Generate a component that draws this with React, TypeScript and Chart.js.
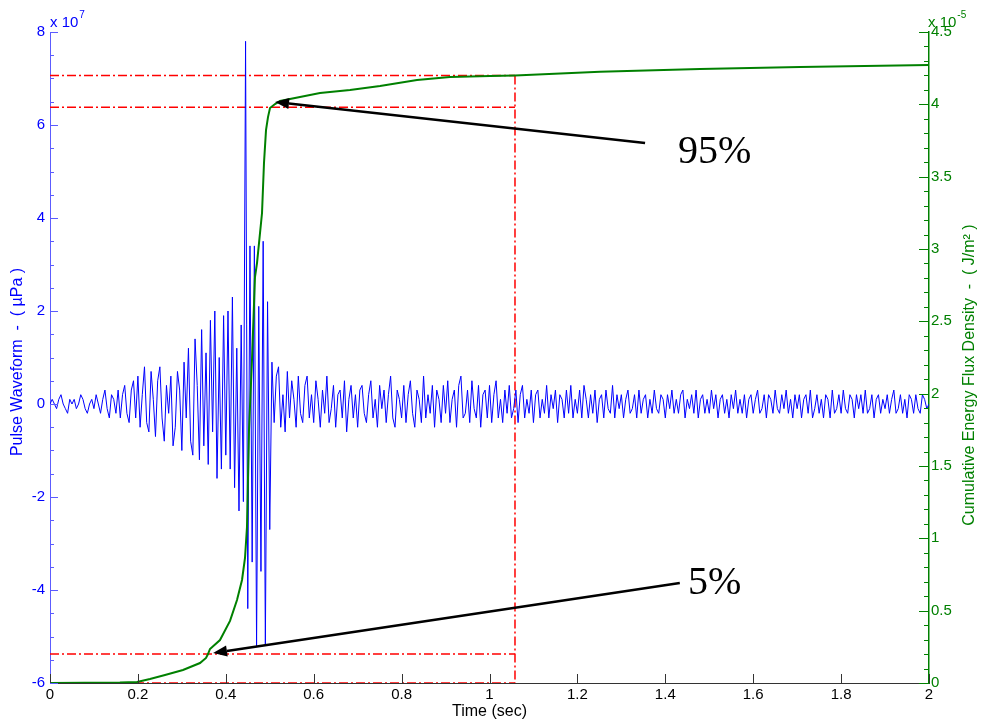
import React, { useEffect, useRef } from "react";
import { Chart, registerables } from "chart.js";

Chart.register(...registerables);

// ---- Data -----------------------------------------------------------------
// Pulse waveform in units of 10^6 µPa, one sample every 5 ms from 0 s to 2 s.
const SAMPLE_STEP_SEC = 0.005;
const pulseWaveform: number[] = [
  // 0.0 s
  0, 1, 0, -1, 1, 2, 0, -1, -2, 1, 0, 1, -1, 0, 2, 1, -1, -2, 0, 1,
  // 0.1 s
  -1, 2, 0, -2, 1, 3, -1, -3, 2, 1, -2, 3, -3, 2, 4, -2, -4, 3, 5, -3,
  // 0.2 s
  6, -5, 2, 8, -4, -6, 7, 1, -7, 5, 8, -3, -8, 4, -2, 6, -9, -5, 7, 3,
  // 0.3 s
  -10, 9, -3, 12, -8, -11, 14, 4, -12, 16, -9, 11, -13, 18, -6, 20, -16, 10, -14, 19,
  // 0.4 s
  -11, 20, -14, 23, -18, 12, -23, 17, -21, 78, -44, 34, -34, 34, -52, 21, -36, 35, -52, 22,
  // 0.5 s
  -27, 9, -4, 6, 8, -5, 2, -6, 7, -3, 5, 1, -5, 6, -2, -4, 4, 6, -3, 2,
  // 0.6 s
  -4, 5, 1, -5, 3, -2, 6, -4, -1, 4, -5, 2, 3, -3, 5, -6, 1, 4, -3, 2,
  // 0.7 s
  -5, 3, 4, -2, -4, 2, 5, -3, 1, -5, 4, -1, 3, -4, 2, 6, -3, -5, 3, 1,
  // 0.8 s
  -3, 4, -4, 2, 5, -2, -5, 3, 1, -4, 6, -3, 2, -2, 4, -5, 3, 1, -4, 4,
  // 0.9 s
  -2, 5, -4, 1, 3, -5, 4, 6, -3, -2, 3, -4, 5, -1, -3, 4, -5, 2, 3, -3,
  // 1.0 s
  4, -4, 2, 5, -3, 1, -4, 3, -2, 4, -3, -1, 3, -4, 2, 4, -3, 1, -2, 3,
  // 1.1 s
  -4, 2, 3, -3, 1, -2, 4, -3, 2, -1, 3, -4, 2, 1, -3, 3, -2, 4, -3, 1,
  // 1.2 s
  -2, 3, -3, 4, 1, -3, 2, -2, 3, -4, 1, 2, -3, 3, -1, -2, 4, -3, 2, -1,
  // 1.3 s
  2, -3, 1, 3, -2, -1, 2, -3, 3, -2, 1, 2, -3, 1, -2, 3, -1, -2, 2, 1,
  // 1.4 s
  -3, 2, -1, 3, -2, 1, -2, 2, 3, -3, 1, -1, 2, -2, 3, -3, 1, 2, -2, 1,
  // 1.5 s
  -2, 3, -1, 2, -3, 1, 2, -2, 1, -3, 2, -1, 3, -2, 1, -2, 2, -3, 1, 2,
  // 1.6 s
  -2, 1, 3, -2, -1, 2, -3, 2, 1, -2, 3, -1, -2, 2, -1, 3, -2, 1, -3, 2,
  // 1.7 s
  -1, 2, -3, 1, 2, -2, 3, -3, -1, 2, -2, 1, -3, 2, 1, -3, 3, -2, -1, 2,
  // 1.8 s
  -2, 3, -1, -2, 2, 1, -3, 2, -1, 2, -2, 3, -2, -1, 2, -3, 1, 2, -2, 1,
  // 1.9 s .. 2.0 s
  -1, 2, -2, 1, 3, -2, -1, 2, -2, 1, -3, 2, 1, -2, 2, -1, -2, 2, 1, -1, 0,
];

// Cumulative energy flux density (×10^-5 J/m²) against time (s)
const energyTimeSec: number[] = [
  0, 0.159, 0.198, 0.2275, 0.2617, 0.3026, 0.3413, 0.355, 0.3595, 0.364,
  0.3868, 0.4096, 0.4255, 0.4369, 0.4437, 0.4482, 0.4528, 0.4596, 0.4664, 0.471,
  0.4824, 0.4869, 0.4915, 0.496, 0.5006, 0.512, 0.5233, 0.5688, 0.6143, 0.6826,
  0.7509, 0.835, 0.91, 1.001, 1.058, 1.2514, 1.479, 1.7065, 2.0,
];
const energyFluxDensity: number[] = [
  0, 0.003, 0.007, 0.028, 0.055, 0.09, 0.138, 0.173, 0.2, 0.235,
  0.297, 0.429, 0.574, 0.712, 0.864, 1.078, 1.749, 2.233, 2.806, 2.903,
  3.249, 3.594, 3.822, 3.912, 3.975, 4.002, 4.023, 4.051, 4.078, 4.099,
  4.127, 4.168, 4.189, 4.196, 4.2, 4.225, 4.245, 4.258, 4.272,
];

// Reference marker levels
const markerTimeSec = 1.058;
const energyTotalLevel = 4.2;
const energy95Level = 3.98;
const energy5Level = 0.2;
const energyZeroLevel = 0;

// Annotations: [time s, energy ×10^-5]
const arrow95 = { tail: [1.354, 3.733], tip: [0.512, 4.016] };
const arrow5 = { tail: [1.433, 0.691], tip: [0.371, 0.207] };
const label95 = { text: "95%", at: [1.4289, 3.594] };
const label5 = { text: "5%", at: [1.4516, 0.615] };

// ---- Styling ----------------------------------------------------------------
const SANS = "'Liberation Sans', Arial, Helvetica, sans-serif";
const SERIF = "'Liberation Serif', 'Times New Roman', serif";
const BLUE = "#0000ff";
const GREEN = "#008000";
const RED = "#ff0000";

const fmt = (v: number) => {
  const r = Math.round(v * 10) / 10;
  return String(r);
};

const decorPlugin = {
  id: "decor",
  afterDraw(chart: any) {
    const { ctx, chartArea, scales } = chart;
    const sx = scales.x;
    const sl = scales.y;
    const sr = scales.y1;
    ctx.save();

    // inward tick marks
    ctx.lineWidth = 1;
    ctx.strokeStyle = "#333333";
    for (let i = 0; i <= 10; i++) {
      const px = Math.round(sx.getPixelForValue(i * 0.2)) + 0.5;
      ctx.beginPath();
      ctx.moveTo(px, chartArea.bottom);
      ctx.lineTo(px, chartArea.bottom - 9);
      ctx.stroke();
    }
    ctx.strokeStyle = "#5c5cff";
    for (let v = -60; v <= 80; v += 5) {
      const py = Math.round(sl.getPixelForValue(v)) + 0.5;
      const len = v % 20 === 0 ? 8 : 4;
      ctx.beginPath();
      ctx.moveTo(chartArea.left, py);
      ctx.lineTo(chartArea.left + len, py);
      ctx.stroke();
    }
    ctx.strokeStyle = GREEN;
    for (let i = 0; i <= 45; i++) {
      const py = Math.round(sr.getPixelForValue(i / 10)) + 0.5;
      const len = i % 5 === 0 ? 10 : 5;
      ctx.beginPath();
      ctx.moveTo(chartArea.right, py);
      ctx.lineTo(chartArea.right - len, py);
      ctx.stroke();
    }

    // arrows
    const drawArrow = (a: { tail: number[]; tip: number[] }) => {
      const x1 = sx.getPixelForValue(a.tail[0]);
      const y1 = sr.getPixelForValue(a.tail[1]);
      const x2 = sx.getPixelForValue(a.tip[0]);
      const y2 = sr.getPixelForValue(a.tip[1]);
      const ang = Math.atan2(y2 - y1, x2 - x1);
      const headLen = 14;
      const headHalf = 5.5;
      const bx = x2 - headLen * Math.cos(ang);
      const by = y2 - headLen * Math.sin(ang);
      ctx.strokeStyle = "#000";
      ctx.lineWidth = 2.5;
      ctx.beginPath();
      ctx.moveTo(x1, y1);
      ctx.lineTo(bx, by);
      ctx.stroke();
      ctx.fillStyle = "#000";
      ctx.beginPath();
      ctx.moveTo(x2, y2);
      ctx.lineTo(bx + headHalf * Math.sin(ang), by - headHalf * Math.cos(ang));
      ctx.lineTo(bx - headHalf * Math.sin(ang), by + headHalf * Math.cos(ang));
      ctx.closePath();
      ctx.fill();
    };
    drawArrow(arrow95);
    drawArrow(arrow5);

    // big percentage labels
    ctx.fillStyle = "#000";
    ctx.font = `40px ${SERIF}`;
    ctx.textAlign = "left";
    ctx.textBaseline = "alphabetic";
    for (const l of [label95, label5]) {
      ctx.fillText(l.text, sx.getPixelForValue(l.at[0]), sr.getPixelForValue(l.at[1]));
    }

    // exponent labels
    const expo = (x: number, color: string, sup: string) => {
      ctx.fillStyle = color;
      ctx.font = `15px ${SANS}`;
      ctx.textAlign = "left";
      ctx.textBaseline = "alphabetic";
      const base = "x 10";
      ctx.fillText(base, x, 27);
      const w = ctx.measureText(base).width;
      ctx.font = `10px ${SANS}`;
      ctx.fillText(sup, x + w + 1, 18);
    };
    expo(chartArea.left, BLUE, "7");
    expo(chartArea.right - 1, GREEN, "-5");

    // axis titles
    ctx.font = `16px ${SANS}`;
    ctx.textAlign = "center";
    ctx.textBaseline = "middle";
    ctx.fillStyle = "#000";
    ctx.fillText("Time (sec)", (chartArea.left + chartArea.right) / 2, 712);

    ctx.save();
    ctx.translate(18, 362);
    ctx.rotate(-Math.PI / 2);
    ctx.fillStyle = BLUE;
    ctx.fillText("Pulse Waveform  -  ( µPa )", 0, 0);
    ctx.restore();

    ctx.save();
    ctx.translate(970, 375);
    ctx.rotate(-Math.PI / 2);
    ctx.fillStyle = GREEN;
    ctx.fillText("Cumulative Energy Flux Density  -  ( J/m² )", 0, 0);
    ctx.restore();

    ctx.restore();
  },
};

export default function App() {
  const canvasRef = useRef<HTMLCanvasElement | null>(null);

  useEffect(() => {
    if (!canvasRef.current) return;
    const pulsePoints = pulseWaveform.map((v, i) => ({ x: i * SAMPLE_STEP_SEC, y: v }));
    const energyPoints = energyTimeSec.map((t, i) => ({ x: t, y: energyFluxDensity[i] }));
    const redStyle = {
      borderColor: RED,
      borderWidth: 1.5,
      borderDash: [9, 3, 2, 3],
      pointRadius: 0,
      yAxisID: "y1",
      order: 3,
      fill: false,
    };
    const hLine = (level: number) => ({
      ...redStyle,
      data: [
        { x: 0, y: level },
        { x: markerTimeSec, y: level },
      ],
    });

    const chart = new Chart(canvasRef.current, {
      type: "line",
      data: {
        datasets: [
          {
            label: "Cumulative Energy Flux Density",
            data: energyPoints,
            borderColor: GREEN,
            borderWidth: 2,
            pointRadius: 0,
            yAxisID: "y1",
            order: 1,
            fill: false,
          },
          {
            label: "Pulse Waveform",
            data: pulsePoints,
            borderColor: BLUE,
            borderWidth: 1,
            pointRadius: 0,
            yAxisID: "y",
            order: 2,
            fill: false,
          },
          hLine(energyTotalLevel),
          hLine(energy95Level),
          hLine(energy5Level),
          hLine(energyZeroLevel),
          {
            ...redStyle,
            data: [
              { x: markerTimeSec, y: energyTotalLevel },
              { x: markerTimeSec, y: energyZeroLevel },
            ],
          },
        ] as any,
      },
      options: {
        animation: false,
        responsive: false,
        layout: { padding: { top: 32, left: 0, right: 0, bottom: 0 } },
        plugins: { legend: { display: false }, tooltip: { enabled: false } },
        elements: { line: { tension: 0 }, point: { radius: 0 } },
        scales: {
          x: {
            type: "linear",
            min: 0,
            max: 2,
            grid: { display: false, drawTicks: false },
            border: { display: true, color: "#333333", width: 1 },
            ticks: {
              stepSize: 0.2,
              color: "#000",
              font: { family: SANS, size: 15 },
              padding: 3,
              maxRotation: 0,
              autoSkip: false,
              callback: (v: any) => fmt(Number(v)),
            },
            afterFit: (s: any) => {
              s.height = 38;
            },
          },
          y: {
            type: "linear",
            position: "left",
            min: -60,
            max: 80,
            grid: { display: false, drawTicks: false },
            border: { display: true, color: "#5c5cff", width: 1 },
            ticks: {
              stepSize: 20,
              color: BLUE,
              font: { family: SANS, size: 15 },
              padding: 5,
              callback: (v: any) => String(Number(v) / 10),
            },
            afterFit: (s: any) => {
              s.width = 50;
            },
          },
          y1: {
            type: "linear",
            position: "right",
            min: 0,
            max: 4.5,
            grid: { display: false, drawTicks: false },
            border: { display: true, color: GREEN, width: 1.5 },
            ticks: {
              stepSize: 0.5,
              color: GREEN,
              font: { family: SANS, size: 15 },
              padding: 2,
              callback: (v: any) => fmt(Number(v)),
            },
            afterFit: (s: any) => {
              s.width = 53;
            },
          },
        },
      } as any,
      plugins: [decorPlugin],
    });
    return () => chart.destroy();
  }, []);

  return (
    <div style={{ position: "fixed", left: 0, top: 0, width: 982, height: 721, background: "#fff" }}>
      <canvas ref={canvasRef} width={982} height={721} style={{ width: 982, height: 721 }} />
    </div>
  );
}
